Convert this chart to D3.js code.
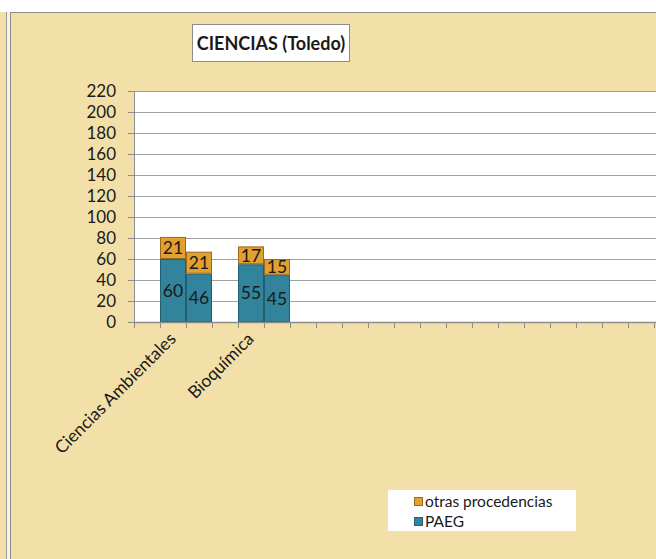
<!DOCTYPE html>
<html>
<head>
<meta charset="utf-8">
<script src="https://cdn.jsdelivr.net/npm/d3@7"></script>
<style>
  body { margin: 0; background: #fff; }
  svg { display: block; }
</style>
</head>
<body>
<svg id="chart" width="656" height="559"></svg>
<script>
// slots of the category axis (most are empty in the original sheet)
var categories = ["", "Ciencias Ambientales", "", "", "Bioquímica", "",
  "", "", "", "", "", "", "", "", "", "", "", "", "", "", ""];
var paeg = [0, 60, 46, 0, 55, 45];
var otras = [0, 21, 21, 0, 17, 15];
var seriesNames = ["PAEG", "otras procedencias"];
var yTicks = [0, 20, 40, 60, 80, 100, 120, 140, 160, 180, 200, 220];

var bg = "#F3E0A9";
var teal = "#31849B";
var orange = "#E1A02F";
var font = "Lato, 'Open Sans', sans-serif";

var svg = d3.select("#chart");
var W = 656, H = 559;

// background panels
svg.append("rect").attr("x", 0).attr("y", 12).attr("width", W).attr("height", H - 12).attr("fill", bg);
svg.append("line").attr("x1", 6.5).attr("x2", 6.5).attr("y1", 12).attr("y2", H).attr("stroke", "#9a9a9a");
svg.append("rect").attr("x", 7).attr("y", 12).attr("width", 3).attr("height", H - 12).attr("fill", "#fbf3dc");
svg.append("line").attr("x1", 10.5).attr("x2", 10.5).attr("y1", 12).attr("y2", H).attr("stroke", "#8c8c8c");
svg.append("line").attr("x1", 10.5).attr("x2", W).attr("y1", 12.5).attr("y2", 12.5).attr("stroke", "#8c8c8c");

var plotLeft = 134, plotTop = 91, plotBottom = 322, step = 26;
var n = categories.length;
var plotRight = plotLeft + n * step;

var y = d3.scaleLinear().domain([0, 220]).range([plotBottom, plotTop]);
var x = d3.scaleBand().domain(d3.range(n)).range([plotLeft, plotRight]).padding(0);
var xEdge = d3.scaleLinear().domain([0, n]).range([plotLeft, plotRight]);

// plot area
svg.append("rect").attr("x", plotLeft).attr("y", plotTop).attr("width", plotRight - plotLeft)
  .attr("height", plotBottom - plotTop).attr("fill", "#fff");

// gridlines
var grid = svg.append("g").attr("transform", "translate(" + plotLeft + ",0)")
  .call(d3.axisLeft(y).tickValues(yTicks).tickSize(-(plotRight - plotLeft)).tickFormat(""));
grid.select(".domain").remove();
grid.selectAll("line").attr("stroke", "#a0a0a0");

// y axis
var yAxis = svg.append("g").attr("transform", "translate(" + plotLeft + ",0)")
  .call(d3.axisLeft(y).tickValues(yTicks).tickSize(6).tickPadding(12).tickSizeOuter(0));
yAxis.selectAll("line").attr("stroke", "#8c8c8c");
yAxis.select(".domain").attr("stroke", "#8c8c8c");
yAxis.selectAll("text").attr("font-family", font).attr("font-size", 17).attr("fill", "#1a1a1a");

// stacked bars
var rows = paeg.map(function (v, i) {
  return { i: i, "PAEG": v, "otras procedencias": otras[i] };
});
var stack = d3.stack().keys(seriesNames)(rows);
var colors = { "PAEG": teal, "otras procedencias": orange };
var strokes = { "PAEG": "#22606f", "otras procedencias": "#9a6a1f" };

stack.forEach(function (s) {
  var g = svg.append("g");
  var segs = s.filter(function (d) { return d[1] > d[0]; });
  g.selectAll("rect").data(segs)
    .enter().append("rect")
    .attr("x", function (d) { return x(d.data.i) + 0.5; })
    .attr("width", x.bandwidth() - 1)
    .attr("y", function (d) { return y(d[1]) + 0.5; })
    .attr("height", function (d) { return y(d[0]) - y(d[1]) - 1; })
    .attr("fill", colors[s.key])
    .attr("stroke", strokes[s.key]);
  g.selectAll("text").data(segs)
    .enter().append("text")
    .attr("x", function (d) { return x(d.data.i) + x.bandwidth() / 2; })
    .attr("y", function (d) { return (y(d[0]) + y(d[1])) / 2; })
    .attr("dy", "0.36em")
    .attr("text-anchor", "middle")
    .attr("font-family", font).attr("font-size", 17.5).attr("fill", "#1a1a1a")
    .text(function (d) { return d[1] - d[0]; });
});

// x axis (ticks between slots)
var xAxis = svg.append("g").attr("transform", "translate(0," + plotBottom + ")")
  .call(d3.axisBottom(xEdge).tickValues(d3.range(n + 1)).tickSize(6).tickFormat("").tickSizeOuter(0));
xAxis.selectAll("line").attr("stroke", "#8c8c8c");
xAxis.select(".domain").attr("stroke", "#8c8c8c").attr("stroke-width", 1.5);

svg.append("g").selectAll("text").data(categories)
  .enter().append("text")
  .attr("transform", function (d, i) {
    return "translate(" + (x(i) + x.bandwidth() / 2 + 4) + "," + (plotBottom + 18) + ") rotate(-45)";
  })
  .attr("text-anchor", "end")
  .attr("font-family", font).attr("font-size", 17.5).attr("fill", "#1a1a1a")
  .text(function (d) { return d; });

// title
svg.append("rect").attr("x", 192.5).attr("y", 24.5).attr("width", 157).attr("height", 37)
  .attr("fill", "#fff").attr("stroke", "#8c8c8c");
svg.append("text").attr("x", 271).attr("y", 50)
  .attr("text-anchor", "middle").attr("font-family", font).attr("font-weight", "bold")
  .attr("font-size", 18).attr("fill", "#1a1a1a").text("CIENCIAS (Toledo)");

// legend
svg.append("rect").attr("x", 388).attr("y", 490).attr("width", 188).attr("height", 41).attr("fill", "#fff");
var legendItems = seriesNames.slice().reverse();
var lg = svg.append("g").selectAll("g").data(legendItems).enter().append("g")
  .attr("transform", function (d, i) { return "translate(414," + (497 + i * 20) + ")"; });
lg.append("rect").attr("x", 0.5).attr("y", 0.5).attr("width", 8).attr("height", 8)
  .attr("fill", function (d) { return colors[d]; })
  .attr("stroke", function (d) { return strokes[d]; });
lg.append("text").attr("x", 11).attr("y", 9.5)
  .attr("font-family", font).attr("font-size", 15.5).attr("fill", "#1a1a1a")
  .text(function (d) { return d; });
</script>
</body>
</html>
